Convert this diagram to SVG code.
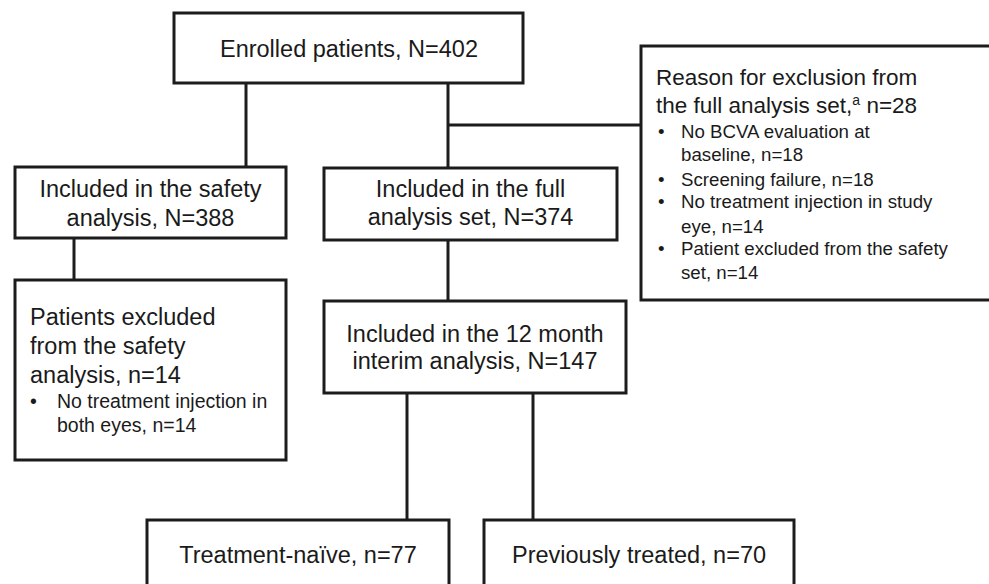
<svg xmlns="http://www.w3.org/2000/svg" width="989" height="584" viewBox="0 0 989 584">
<style>
.box{fill:#fff;stroke:#1c1c1c;stroke-width:3}
.ln{stroke:#1c1c1c;stroke-width:3;fill:none}
text{font-family:"Liberation Sans",Arial,sans-serif;fill:#1a1a1a}
.m{font-size:23.5px}
.c{text-anchor:middle}
.t{font-size:22.5px}
.b{font-size:18.7px}
.b2{font-size:19.5px}
</style>
<rect width="989" height="584" fill="#fff"/>
<g id="connectors">
<path class="ln" d="M246,83V167"/>
<path class="ln" d="M448,83V168"/>
<path class="ln" d="M448,125H641"/>
<path class="ln" d="M74,238V280"/>
<path class="ln" d="M448,240V301"/>
<path class="ln" d="M407,393V520"/>
<path class="ln" d="M533,393V520"/>
</g>
<g id="enrolled">
<rect class="box" x="174" y="13" width="349" height="70"/>
<text class="m c" x="349" y="57">Enrolled patients, N=402</text>
</g>
<g id="safety">
<rect class="box" x="15" y="167" width="271" height="71"/>
<text class="m c" x="150.5" y="197">Included in the safety</text>
<text class="m c" x="150.5" y="226">analysis, N=388</text>
</g>
<g id="full">
<rect class="box" x="324" y="168" width="293" height="72"/>
<text class="m c" x="470.5" y="197">Included in the full</text>
<text class="m c" x="470.5" y="225">analysis set, N=374</text>
</g>
<g id="exclusion">
<rect class="box" x="641" y="46" width="360" height="254"/>
<text class="t" x="656" y="85">Reason for exclusion from</text>
<text class="t" x="656" y="113">the full analysis set,<tspan font-size="14" dy="-8">a</tspan><tspan dy="8"> n=28</tspan></text>
<text class="b" x="658" y="138">•</text>
<text class="b" x="681" y="138">No BCVA evaluation at</text>
<text class="b" x="681" y="161">baseline, n=18</text>
<text class="b" x="658" y="186">•</text>
<text class="b" x="681" y="186">Screening failure, n=18</text>
<text class="b" x="658" y="208">•</text>
<text class="b" x="681" y="208">No treatment injection in study</text>
<text class="b" x="681" y="233">eye, n=14</text>
<text class="b" x="658" y="255">•</text>
<text class="b" x="681" y="255">Patient excluded from the safety</text>
<text class="b" x="681" y="279">set, n=14</text>
</g>
<g id="excluded-safety">
<rect class="box" x="15" y="280" width="271" height="180"/>
<text class="m" x="30" y="325">Patients excluded</text>
<text class="m" x="30" y="354">from the safety</text>
<text class="m" x="30" y="383">analysis, n=14</text>
<text class="b2" x="30" y="408">•</text>
<text class="b2" x="57" y="408">No treatment injection in</text>
<text class="b2" x="57" y="432">both eyes, n=14</text>
</g>
<g id="interim">
<rect class="box" x="324" y="301" width="302" height="92"/>
<text class="m c" x="475" y="342">Included in the 12 month</text>
<text class="m c" x="475" y="369">interim analysis, N=147</text>
</g>
<g id="naive">
<rect class="box" x="147" y="520" width="302" height="80"/>
<text class="m c" x="298" y="563">Treatment-naïve, n=77</text>
</g>
<g id="treated">
<rect class="box" x="484" y="520" width="310" height="80"/>
<text class="m c" x="639" y="563">Previously treated, n=70</text>
</g>
</svg>
